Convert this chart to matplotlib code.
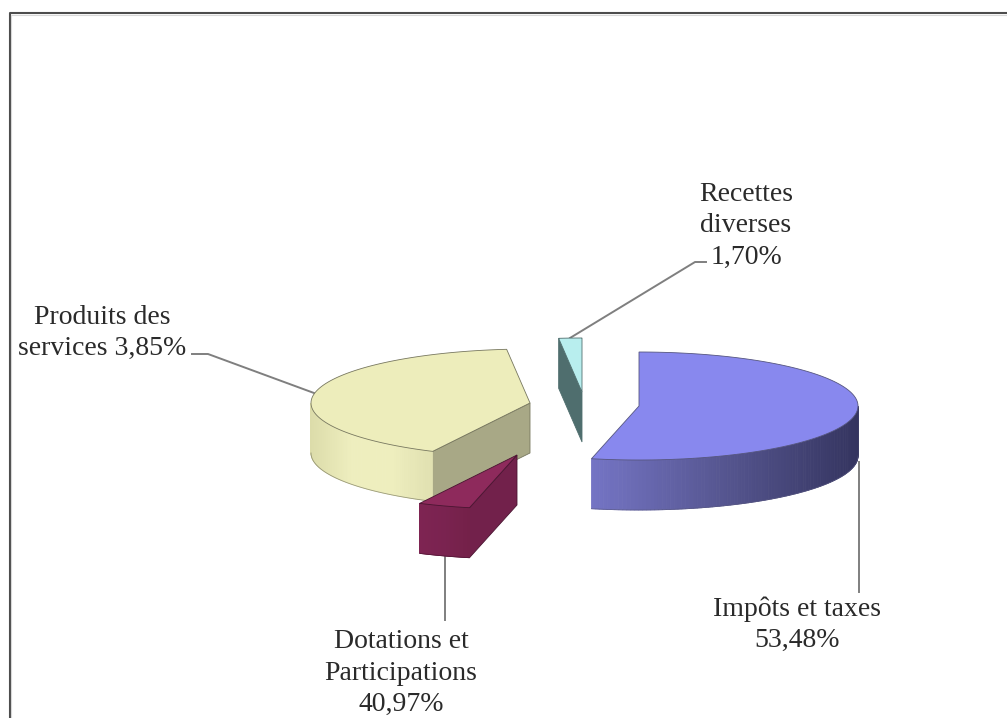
import numpy as np
import matplotlib
matplotlib.use("Agg")
import matplotlib.pyplot as plt
from matplotlib.colors import to_rgb

# shares, clockwise from 12 o'clock
names = ["Impots", "Dotations", "Produits", "Recettes"]
values = [53.48, 3.85, 40.97, 1.70]

# the labels are written like this on the original chart
labels = ["Impôts et taxes\n53,48%",
          "Dotations et\nParticipations\n40,97%",
          "Produits des\nservices 3,85%",
          "Recettes\ndiverses\n1,70%"]

# exploded centre of every slice, in pixels
centers = [(639, 406), (517, 455), (530, 403), (582, 392)]

top_colors = ["#8888ee", "#8e2a5c", "#ededbb", "#b8eeee"]
cut_colors = [None, "#72214b", "#a8a886", "#4f6e6e"]
edge_colors = ["#55557f", "#4a1531", "#77775f", "#4f6e6e"]
wall_colors = [["#7474c4", "#55558f", "#34345f"],
               ["#7e2452", "#7a2350", "#742149"],
               ["#dcdcaa", "#eeeebe", "#eeeebe", "#e0e0b0"],
               ["#4f6e6e", "#4f6e6e"]]

RX = 219
RY = 54
DEPTH = 50


def arc(c, a1, a2, n=120):
    t = np.radians(np.linspace(a1, a2, n))
    return c[0] + RX * np.cos(t), c[1] - RY * np.sin(t)


def shade(cols, t):
    cols = [to_rgb(c) for c in cols]
    pos = np.linspace(0, 1, len(cols))
    return [np.interp(t, pos, [c[i] for c in cols]) for i in range(3)]


def draw_wall(ax, c, a1, a2, cols, edge, z):
    # only the front of the rim is visible, a from -180 to 0
    lo = max(min(a1, a2), -180)
    hi = min(max(a1, a2), 0)
    if lo >= hi:
        return
    x, y = arc(c, lo, hi, 100)
    for i in range(len(x) - 1):
        col = shade(cols, (x[i] - x.min()) / (x.max() - x.min()))
        ax.fill([x[i], x[i + 1], x[i + 1], x[i]],
                [y[i], y[i + 1], y[i + 1] + DEPTH, y[i] + DEPTH],
                color=col, lw=0.6, zorder=z)
    ax.plot(x, y + DEPTH, color=edge, lw=0.6, alpha=0.7, zorder=z)


def draw_cut(ax, c, a, col, edge, z):
    x, y = arc(c, a, a, 2)
    ax.fill([c[0], x[0], x[0], c[0]],
            [c[1], y[0], y[0] + DEPTH, c[1] + DEPTH],
            facecolor=col, edgecolor=edge, lw=0.6, zorder=z)


fig = plt.figure(figsize=(10.07, 7.18), dpi=100)
ax = fig.add_axes([0, 0, 1, 1])
ax.set_xlim(0, 1007)
ax.set_ylim(718, 0)
ax.axis("off")

# frame of the pasted picture
ax.plot([9.5, 9.5, 1007], [718, 13, 13], color="#4d4d4d", lw=1.5, zorder=1)
ax.plot([11, 11, 1007], [718, 14.5, 14.5], color="#d8d8d8", lw=0.8, zorder=1)

# slice angles from the values
angles = 90 - np.cumsum([0] + values) * 3.6
draw_order = [2, 1, 3, 0]

for i in draw_order:
    a1, a2 = angles[i], angles[i + 1]
    c = centers[i]
    z = 3 + draw_order.index(i)
    if cut_colors[i] is not None:
        draw_cut(ax, c, a1, cut_colors[i], edge_colors[i], z)
    draw_wall(ax, c, a1, a2, wall_colors[i], edge_colors[i], z)
    x, y = arc(c, a1, a2)
    ax.fill(np.r_[c[0], x], np.r_[c[1], y], facecolor=top_colors[i],
            edgecolor=edge_colors[i], lw=0.6, zorder=z)

# leader lines
leaders = [([859, 859], [462, 592]),
           ([445, 445], [556, 620]),
           ([314, 208, 192], [393, 354, 354]),
           ([570, 695, 706], [338, 262, 262])]
for lx, ly in leaders:
    ax.plot(lx, ly, color="#7f7f7f", lw=1.4, zorder=2)

# bottom label sits a little higher so the comma is not cut off
label_pos = [(797, 625), (401, 673), (102, 333), (746, 226)]
for txt, p in zip(labels, label_pos):
    ax.text(p[0], p[1], txt, ha="center", va="center", multialignment="center",
            family="Liberation Serif", fontsize=20, color="#2a2a2a", linespacing=1.33)

fig.savefig("out.png", dpi=100)
